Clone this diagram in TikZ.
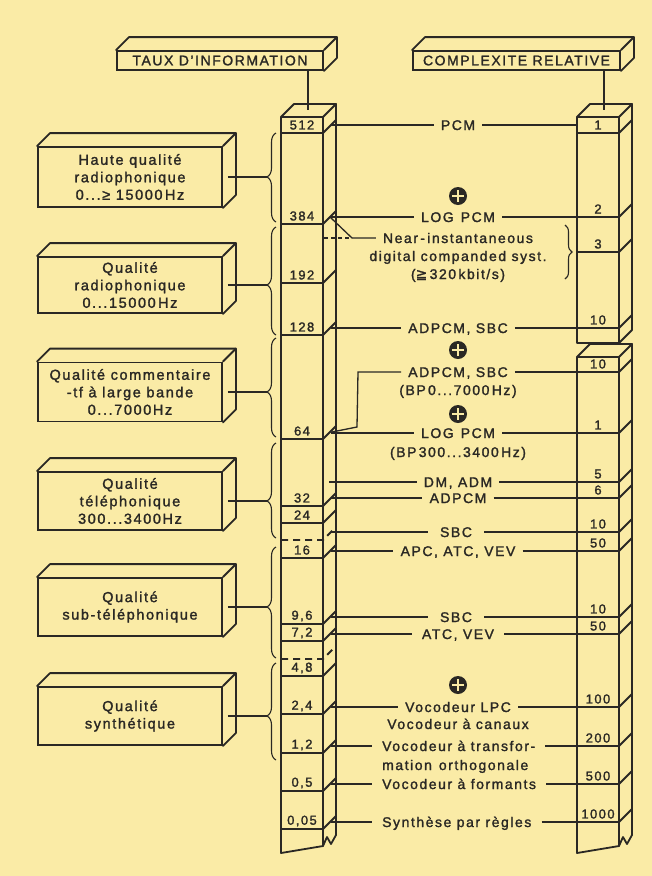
\documentclass[tikz,border=0pt]{standalone}
\usepackage{fontspec}
\setmainfont{Liberation Sans}[LetterSpace=11,FakeBold=1.6]
\newfontfamily\symf{DejaVu Sans}[FakeBold=1.2]
\usetikzlibrary{decorations.pathreplacing}
\definecolor{paper}{RGB}{250,235,166}
\definecolor{ink}{RGB}{42,40,36}
\begin{document}
\begin{tikzpicture}[x=1pt,y=-1pt,
  frame/.style={draw=ink,line width=1.8pt,line join=round,line cap=round},
  conn/.style={draw=ink,line width=1.3pt},
  dashrow/.style={draw=ink,line width=1.8pt,dash pattern=on 7pt off 5pt},
  num/.style={font=\fontsize{13}{15}\selectfont,inner sep=0pt,text=ink},
  mid/.style={font=\fontsize{14}{16}\selectfont,inner xsep=7pt,inner ysep=0pt,text height=10pt,text depth=0pt,text=ink},
  boxtxt/.style={draw=ink,line width=1.8pt,font=\fontsize{14.5}{17.5}\selectfont,align=center,text=ink,inner sep=0pt,minimum width=184pt},
  hdr/.style={draw=ink,line width=1.8pt,font=\fontsize{14}{16}\selectfont,text=ink,inner sep=0pt,minimum height=19pt},
  plus/.style={circle,fill=ink,minimum size=18pt,inner sep=0pt},
  pluscross/.style={draw=paper,line width=2.8pt,shorten <=3.5pt,shorten >=3.5pt},
  lbrace/.style={draw=ink,line width=1.1pt,decorate,decoration={brace,amplitude=9pt,aspect=#1}},
]
\fill[paper] (0,0) rectangle (652,876);
\useasboundingbox (0,0) rectangle (652,876);

% ---------- headers
\node[hdr,minimum width=206pt] (hA) at (220,60.5) {TAUX D'INFORMATION};
\node[hdr,minimum width=207pt] (hB) at (516.5,60.5) {COMPLEXITE RELATIVE};
\foreach \n in {hA,hB}{
  \draw[frame] (\n.north west) -- ++(13,-13) -- ([shift={(13,-13)}]\n.north east) -- ([shift={(13,-13)}]\n.south east) -- (\n.south east);
  \draw[frame] (\n.north east) -- ++(13,-13);
}
\coordinate (topA) at (308,110);
\coordinate (topB) at (604,110);
\draw[conn] (topA |- hA.south) -- (topA);
\draw[conn] (topB |- hB.south) -- (topB);

% ---------- left column
\draw[frame] (281,117) -- (294,104) -- (336,104) -- (323,117) -- cycle;
\draw[frame] (323,117) -- (323,846);
\draw[frame] (281,117) -- (281,853) -- (323,846) -- (327,837) -- (331,844) -- (336,835) -- (336,104);
\foreach \y in {133,224,283,335,439,506,523,558,624,641,676,714,753,791,829}
  \draw[frame] (281,\y) -- (323,\y) -- (336,\y-13);
\foreach \y in {540,659}
  \draw[dashrow] (281,\y) -- (323,\y) -- (336,\y-13);
\foreach \y/\t in {133/512,224/384,283/192,335/128,439/64,506/32,523/24,558/16,624/{9,6},641/{7,2},676/{4,8},714/{2,4},753/{1,2},791/{0,5},829/{0,05}}
  \node[num] (L\y) at (302,\y-8) {\t};

% ---------- right column
\draw[frame] (577,117) -- (590,104) -- (632,104) -- (619,117) -- cycle;
\draw[frame] (577,117) -- (577,343) -- (619,343) -- (632,330) -- (632,104);
\draw[frame] (619,117) -- (619,343);
\draw[frame] (577,357) -- (590,344) -- (632,344) -- (619,357) -- cycle;
\draw[frame] (619,357) -- (619,846);
\draw[frame] (577,357) -- (577,853) -- (619,846) -- (623,837) -- (627,844) -- (632,835) -- (632,344);
\foreach \y in {133,217,252,328,372,433,482,498,532,551,617,634,707,746,784,822}
  \draw[frame] (577,\y) -- (619,\y) -- (632,\y-13);
\foreach \y/\t in {133/1,217/2,252/3,328/10,372/10,433/1,482/5,498/6,532/10,551/50,617/10,634/50,707/100,746/200,784/500,822/1000}
  \node[num] (R\y) at (598,\y-8) {\t};

% ---------- quality boxes
\node[boxtxt,minimum height=60pt] (q1) at (130,177) {Haute qualité\\radiophonique\\0...≥ 15000\,Hz};
\node[boxtxt,minimum height=56pt] (q2) at (130,285) {Qualité\\radiophonique\\0...15000\,Hz};
\node[boxtxt,minimum height=59pt] (q3) at (130,392) {Qualité commentaire\\-tf à large bande\\0...7000Hz};
\node[boxtxt,minimum height=58pt] (q4) at (130,501) {Qualité\\téléphonique\\300...3400Hz};
\node[boxtxt,minimum height=58pt] (q5) at (130,607) {Qualité\\sub-téléphonique};
\node[boxtxt,minimum height=58pt] (q6) at (130,716) {Qualité\\synthétique};
\foreach \n in {q1,q2,q3,q4,q5,q6}{
  \draw[frame] (\n.north west) -- ++(13,-13) -- ([shift={(13,-13)}]\n.north east) -- ([shift={(13,-13)}]\n.south east) -- (\n.south east);
  \draw[frame] (\n.north east) -- ++(13,-13);
}
% braces
\draw[lbrace=0.506] (276,222) -- (276,133);
\draw[lbrace=0.463] (276,335) -- (276,227);
\draw[lbrace=0.455] (276,437) -- (276,338);
\draw[lbrace=0.39]  (276,538) -- (276,443);
\draw[lbrace=0.46]  (276,658) -- (276,547);
\draw[lbrace=0.454] (276,760) -- (276,663);
\coordinate (b1) at (267,177);
\coordinate (b2) at (267,285);
\coordinate (b3) at (267,392);
\coordinate (b4) at (267,501);
\coordinate (b5) at (267,607);
\coordinate (b6) at (267,716);
\foreach \i in {1,...,6}
  \draw[conn] ([xshift=5pt]q\i.east |- b\i) -- (b\i);

% ---------- middle
\node[plus] (p1) at (458,196) {};
\node[plus] (p2) at (458,350) {};
\node[plus] (p3) at (458,414) {};
\node[plus] (p4) at (458,685) {};
\foreach \p in {p1,p2,p3,p4}{
  \draw[pluscross] (\p.west) -- (\p.east);
  \draw[pluscross] (\p.north) -- (\p.south);
}

\node[mid] (t1) at (458,125) {PCM};
\draw[conn] (331,125) -- (t1.west);
\draw[conn] (t1.east) -- (577,125);

\node[mid] (t2) at (458,217) {LOG\enspace PCM};
\draw[conn] (330,217) -- (t2.west);
\draw[conn] (t2.east) -- (577,217);

\node[mid] (t3) at (458,238) {Near\,-\,instantaneous};
\node[mid] (t3b) at (458,256) {digital companded syst.};
\node[mid] (t3c) at (458,274) {({\symf ≧}\,320\,kbit/s)};
\draw[conn] (330,217) -- (352,238) -- (t3.west);
\draw[draw=ink,line width=1.1pt,dash pattern=on 4pt off 3pt] (324,238) -- (352,238);
\draw[draw=ink,line width=1.1pt,decorate,decoration={brace,amplitude=7pt}] (565,225) -- (565,279);

\node[mid] (t4) at (458,328) {ADPCM, SBC};
\draw[conn] (331,328) -- (t4.west);
\draw[conn] (t4.east) -- (577,328);

\node[mid] (t5) at (458,372) {ADPCM, SBC};
\node[mid] (t5b) at (458,390) {(BP\,0...7000\,Hz)};
\draw[conn] (t5.west) -- (358,372) -- (357,427) -- (332,432);
\draw[conn] (t5.east) -- (577,372);

\node[mid] (t6) at (458,433) {LOG\enspace PCM};
\node[mid] (t6b) at (458,452) {(BP\,300...3400\,Hz)};
\draw[conn] (331,433) -- (t6.west);
\draw[conn] (t6.east) -- (577,433);

\node[mid] (t7) at (458,482) {DM, ADM};
\draw[conn] (329,482) -- (t7.west);
\draw[conn] (t7.east) -- (577,482);

\node[mid] (t8) at (458,498) {ADPCM};
\draw[conn] (331,498) -- (t8.west);
\draw[conn] (t8.east) -- (577,498);

\node[mid,inner xsep=12pt] (t9) at (456,532) {SBC};
\draw[conn] (331,532) -- (t9.west);
\draw[conn] (t9.east) -- (577,532);

\node[mid] (t10) at (458,551) {APC, ATC, VEV};
\draw[conn] (331,551) -- (t10.west);
\draw[conn] (t10.east) -- (577,551);

\node[mid,inner xsep=12pt] (t11) at (456,617) {SBC};
\draw[conn] (331,617) -- (t11.west);
\draw[conn] (t11.east) -- (577,617);

\node[mid,inner xsep=10pt] (t12) at (458,634) {ATC, VEV};
\draw[conn] (331,634) -- (t12.west);
\draw[conn] (t12.east) -- (577,634);

\node[mid] (t13) at (458,707) {Vocodeur LPC};
\node[mid] (t13b) at (458,724) {Vocodeur à canaux};
\draw[conn] (331,707) -- (t13.west);
\draw[conn] (t13.east) -- (577,707);

\node[mid,anchor=west,inner xsep=10pt] (t14) at (372,746) {Vocodeur à transfor-};
\node[mid,anchor=west,inner xsep=10pt] (t14b) at (372,765) {mation\enspace orthogonale};
\draw[conn] (331,746) -- (t14.west);
\draw[conn] (t14.east) -- (577,746);

\node[mid,anchor=west,inner xsep=10pt] (t15) at (372,784) {Vocodeur à formants};
\draw[conn] (331,784) -- (t15.west);
\draw[conn] (t15.east) -- (577,784);

\node[mid,anchor=west,inner xsep=10pt] (t16) at (372,822) {Synthèse par règles};
\draw[conn] (331,822) -- (t16.west);
\draw[conn] (t16.east) -- (577,822);
\end{tikzpicture}
\end{document}
